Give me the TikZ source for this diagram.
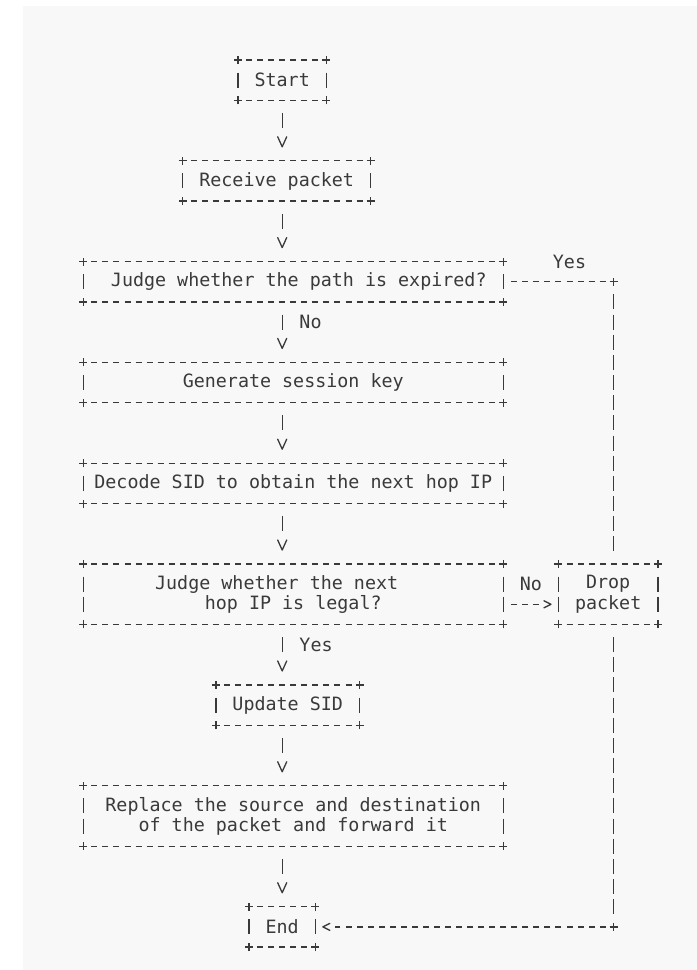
\documentclass[tikz,border=0pt]{standalone}
\usepackage{fontspec}
\usetikzlibrary{positioning, arrows.meta}
\newfontfamily\asciifont{DejaVu Sans Mono}
\definecolor{ink}{HTML}{3A3A3A}
\definecolor{paper}{HTML}{F8F8F8}
\newlength\colw
\setlength\colw{11.05pt}
\newlength\rowh
\setlength\rowh{20.16pt}
\pgfdeclarearrow{
    name = chev,
    parameters = {\the\pgfarrowlength,\the\pgfarrowwidth},
    setup code = {
        \pgfarrowssettipend{\pgfarrowlength}
        \pgfarrowssetbackend{0pt}
        \pgfarrowssetlineend{-5pt}
        \pgfarrowssavethe\pgfarrowlength
        \pgfarrowssavethe\pgfarrowwidth
    },
    drawing code = {
        \pgfsetdash{}{0pt}
        \pgfsetroundcap
        \pgfsetroundjoin
        \pgfpathmoveto{\pgfpoint{0pt}{.5\pgfarrowwidth}}
        \pgfpathlineto{\pgfpoint{\pgfarrowlength}{0pt}}
        \pgfpathlineto{\pgfpoint{0pt}{-.5\pgfarrowwidth}}
        \pgfusepathqstroke
    },
    defaults = {length = 9pt, width = 9pt},
}

\begin{document}
\begin{tikzpicture}[
    x=11.05pt, y=-20.16pt,
    color=ink,
    line width=1.3pt,
    box/.style 2 args = {
        minimum width=#1\colw,
        minimum height=#2\rowh,
        inner sep=0pt,
        outer sep=0pt,
        align=center,
        font=\asciifont\fontsize{18.35pt}{20.16pt}\selectfont,
    },
    lbl/.style = {
        inner sep=0pt,
        text height=17.4pt,
        text depth=4pt,
        font=\asciifont\fontsize{18.35pt}{20.16pt}\selectfont,
    },
    hrule/.style = {
        draw,
        dash pattern=on 6pt off 5.05pt,
        dash phase=3pt,
    },
    vrule/.style = {
        draw,
        dash pattern=on 15pt off 5.16pt,
        shorten <=12.66pt,
        shorten >=12.66pt,
    },
    hlink/.style = {
        draw,
        dash pattern=on 6pt off 5.05pt,
        shorten <=8.05pt,
    },
    flow/.style = {
        draw,
        dash pattern=on 15pt off 5.16pt,
        shorten <=12.66pt,
        shorten >=14pt,
        -{chev[length=10pt, width=9pt]},
    },
    plus/.pic = {
        \draw [solid] (-4pt, 0pt) -- (4pt, 0pt) (0pt, -4pt) -- (0pt, 4pt);
    },
]
\fill [paper] (-5.457, -2.679) rectangle (55.538, 45.139);
\useasboundingbox (-7.5385, -2.976) rectangle (55.538, 45.139);

\node [box={8}{2}] (start) at (18, 1) {Start};
\node [box={17}{2}] (recv) at (17.5, 6) {Receive packet};
\node [box={38}{2}] (expired) at (19, 11) {\hspace*{1\colw}Judge whether the path is expired?};
\node [box={38}{2}] (keygen) at (19, 16) {Generate session key};
\node [box={38}{2}] (decode) at (19, 21) {Decode SID to obtain the next hop IP};
\node [box={38}{3}] (legal) at (19, 26.5) {Judge whether the next\hspace*{3\colw}\\hop IP is legal?};
\node [box={9}{3}] (drop) at (47.5, 26.5) {Drop\\packet};
\node [box={13}{2}] (update) at (18.5, 32) {Update SID};
\node [box={38}{3}] (forward) at (19, 37.5) {Replace the source and destination\\of the packet and forward it};
\node [box={6}{2}] (finish) at (18, 43) {End};

\foreach \n in {start, recv, expired, keygen, decode, legal, drop, update, forward, finish} {
    \draw [hrule] (\n.north west) -- (\n.north east);
    \draw [hrule] (\n.south west) -- (\n.south east);
    \draw [vrule] (\n.north west) -- (\n.south west);
    \draw [vrule] (\n.north east) -- (\n.south east);
    \foreach \a in {north west, north east, south west, south east}
        \pic at (\n.\a) {plus};
}

\coordinate (spine) at (18, 0);
\coordinate (rail) at (48, 0);
\path [flow] (spine |- start.south) -- (spine |- recv.north);
\path [flow] (spine |- recv.south) -- (spine |- expired.north);
\path [flow] (spine |- expired.south)
    -- node [lbl, pos=1/3, right=16.6pt] {No} (spine |- keygen.north);
\path [flow] (spine |- keygen.south) -- (spine |- decode.north);
\path [flow] (spine |- decode.south) -- (spine |- legal.north);
\path [flow] (spine |- legal.south)
    -- node [lbl, pos=1/3, right=16.6pt] {Yes} (spine |- update.north);
\path [flow] (spine |- update.south) -- (spine |- forward.north);
\path [flow] (spine |- forward.south) -- (spine |- finish.north);

\coordinate (yesturn) at (expired.east -| rail);
\path [hlink] (expired.east) -- node [lbl, pos=.6, yshift=\rowh] {Yes} (yesturn);
\path [vrule] (yesturn) -- (rail |- drop.north);
\pic at (yesturn) {plus};

\path [hlink, shorten >=7.5pt, -{chev[length=7pt, width=7pt]}]
    ([yshift=-.5\rowh]legal.east)
    -- node [lbl, pos=.5, yshift=\rowh] {No} ([yshift=-.5\rowh]drop.west);

\coordinate (endturn) at (rail |- finish.east);
\path [vrule] (rail |- drop.south) -- (endturn);
\path [hlink, shorten >=7.5pt, -{chev[length=7pt, width=7pt]}] (endturn) -- (finish.east);
\pic at (endturn) {plus};
\end{tikzpicture}
\end{document}
